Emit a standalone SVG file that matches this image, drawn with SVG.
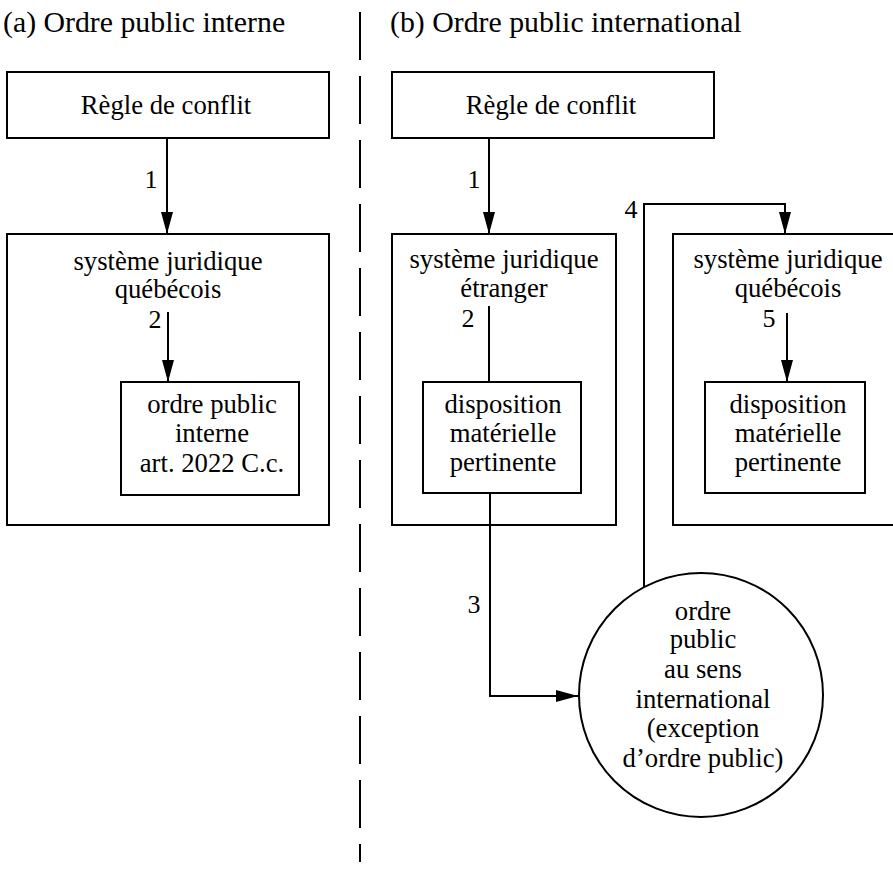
<svg xmlns="http://www.w3.org/2000/svg" width="893" height="872" viewBox="0 0 893 872">
<style>
  .box { fill: #fff; stroke: #000; stroke-width: 2; }
  .ln { fill: none; stroke: #000; stroke-width: 2; }
  .t { font-family: "Liberation Serif", "Times New Roman", serif; font-size: 26.7px; fill: #000; text-anchor: middle; }
  .title { font-family: "Liberation Serif", "Times New Roman", serif; font-size: 29.8px; fill: #000; }
  .num { font-family: "Liberation Serif", "Times New Roman", serif; font-size: 26px; fill: #000; text-anchor: middle; }
</style>
<defs>
  <marker id="ah" viewBox="0 0 22 12" refX="22" refY="6" markerWidth="22" markerHeight="12" markerUnits="userSpaceOnUse" orient="auto">
    <path d="M0,0 L22,6 L0,12 Z" fill="#000"/>
  </marker>
</defs>
<rect width="893" height="872" fill="#fff"/>

<g id="titles">
  <text class="title" x="3" y="32">(a) Ordre public interne</text>
  <text class="title" x="390" y="32">(b) Ordre public international</text>
</g>

<line id="divider" x1="360" y1="12" x2="360" y2="862" stroke="#000" stroke-width="2" stroke-dasharray="48 16"/>

<g id="a-regle">
  <rect class="box" x="7" y="72" width="322" height="66"/>
  <text class="t" x="166" y="114">Règle de conflit</text>
</g>
<g id="a-systeme">
  <rect class="box" x="7" y="234" width="322" height="291"/>
  <text class="t" x="168" y="270">système juridique</text>
  <text class="t" x="168" y="298">québécois</text>
</g>
<g id="a-ordre">
  <rect class="box" x="121" y="382" width="178" height="113"/>
  <text class="t" x="212" y="413">ordre public</text>
  <text class="t" x="212" y="442">interne</text>
  <text class="t" x="212" y="472">art. 2022 C.c.</text>
</g>

<g id="b-regle">
  <rect class="box" x="392" y="72" width="322" height="66"/>
  <text class="t" x="551" y="114">Règle de conflit</text>
</g>
<g id="b-etranger">
  <rect class="box" x="392" y="234" width="224" height="291"/>
  <text class="t" x="504" y="268">système juridique</text>
  <text class="t" x="504" y="297">étranger</text>
</g>
<g id="b-disp1">
  <rect class="box" x="423" y="382" width="158" height="111"/>
  <text class="t" x="503" y="413">disposition</text>
  <text class="t" x="503" y="442">matérielle</text>
  <text class="t" x="503" y="471">pertinente</text>
</g>
<g id="b-quebecois">
  <rect class="box" x="673" y="234" width="240" height="291"/>
  <text class="t" x="788" y="268">système juridique</text>
  <text class="t" x="788" y="297">québécois</text>
</g>
<g id="b-disp2">
  <rect class="box" x="705" y="382" width="160" height="111"/>
  <text class="t" x="788" y="413">disposition</text>
  <text class="t" x="788" y="442">matérielle</text>
  <text class="t" x="788" y="471">pertinente</text>
</g>
<g id="b-ordre-public">
  <circle class="box" cx="701" cy="695" r="122"/>
  <text class="t" x="703" y="620">ordre</text>
  <text class="t" x="703" y="648">public</text>
  <text class="t" x="703" y="678">au sens</text>
  <text class="t" x="703" y="708">international</text>
  <text class="t" x="703" y="737">(exception</text>
  <text class="t" x="703" y="767">d’ordre public)</text>
</g>

<g id="connectors">
  <line class="ln" x1="167" y1="138" x2="167" y2="234" marker-end="url(#ah)"/>
  <line class="ln" x1="168" y1="312" x2="168" y2="382" marker-end="url(#ah)"/>
  <line class="ln" x1="489" y1="138" x2="489" y2="234" marker-end="url(#ah)"/>
  <line class="ln" x1="489" y1="306" x2="489" y2="382"/>
  <polyline class="ln" points="490,493 490,696 578,696" marker-end="url(#ah)"/>
  <polyline class="ln" points="644,587 644,204 785,204 785,234" marker-end="url(#ah)"/>
  <line class="ln" x1="787" y1="313" x2="787" y2="382" marker-end="url(#ah)"/>
</g>

<g id="labels">
  <text class="num" x="151" y="188">1</text>
  <text class="num" x="155" y="328">2</text>
  <text class="num" x="474" y="188">1</text>
  <text class="num" x="468" y="327">2</text>
  <text class="num" x="474" y="613">3</text>
  <text class="num" x="631" y="218">4</text>
  <text class="num" x="769" y="327">5</text>
</g>
</svg>
